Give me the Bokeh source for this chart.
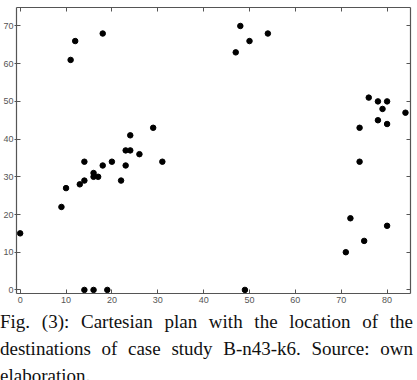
from bokeh.plotting import figure
from bokeh.models import LinearAxis, Range1d, Div, FixedTicker
from bokeh.layouts import column
from bokeh.embed import file_html
from bokeh.resources import INLINE

# Destination coordinates (case study B-n43-k6)
x_vals = [12, 11, 18, 24, 29, 23, 24, 26,
          14, 20, 31, 18, 23, 16, 16, 17, 14, 22, 13, 10, 9, 0, 14, 16, 19,
          74, 72, 80, 75, 71, 49,
          48, 50, 47, 54, 76, 78, 80, 79, 84, 78, 80, 74]
y_vals = [66, 61, 68, 41, 43, 37, 37, 36,
          34, 34, 34, 33, 33, 31, 30, 30, 29, 29, 28, 27, 22, 15, 0, 0, 0,
          34, 19, 17, 13, 10, 0,
          70, 66, 63, 68, 51, 50, 50, 48, 47, 45, 44, 43]

x_ticks = [0, 10, 20, 30, 40, 50, 60, 70, 80]
y_ticks = [0, 10, 20, 30, 40, 50, 60, 70]

caption = ("Fig. (3): Cartesian plan with the location of the destinations "
           "of case study B-n43-k6. Source: own elaboration.")

AX = "#555555"
LBL = "#555555"

p = figure(width=417, height=308,
           x_range=Range1d(-0.8, 85.1), y_range=Range1d(-0.95, 74.9),
           output_backend="svg", toolbar_location=None,
           x_axis_location=None, y_axis_location=None,
           min_border_left=15, min_border_right=7,
           min_border_top=7, min_border_bottom=15)
p.grid.visible = False
p.outline_line_color = None
p.background_fill_color = "white"


def make_axis(ticks, labels=True):
    ax = LinearAxis(ticker=FixedTicker(ticks=ticks))
    ax.axis_line_color = AX
    ax.axis_line_width = 1.2
    ax.major_tick_line_color = AX
    ax.minor_tick_line_color = None
    ax.major_tick_in = 4
    ax.major_tick_out = 0
    ax.major_label_text_font = "Liberation Sans"
    ax.major_label_text_font_size = "9px"
    ax.major_label_standoff = 1
    if labels:
        ax.major_label_text_color = LBL
    else:
        ax.major_label_text_color = None
        ax.major_label_standoff = 0
    return ax


left = make_axis(y_ticks)
left.major_tick_out = 2
p.add_layout(left, "left")
bottom = make_axis(x_ticks)
bottom.major_label_standoff = 3
p.add_layout(bottom, "below")
p.add_layout(make_axis(y_ticks, labels=False), "right")
p.add_layout(make_axis(x_ticks, labels=False), "above")

p.scatter(x_vals, y_vals, size=5.5, color="black")

div = Div(text=caption, width=417, margin=(0, 0, 0, 0),
          styles={"font-family": "'Liberation Serif', 'Times New Roman', serif",
                  "font-size": "19px", "line-height": "27px",
                  "text-align": "justify", "color": "#111111",
                  "width": "413px"})

layout = column(p, div, spacing=0)
open("out.html", "w").write(file_html(layout, INLINE))
